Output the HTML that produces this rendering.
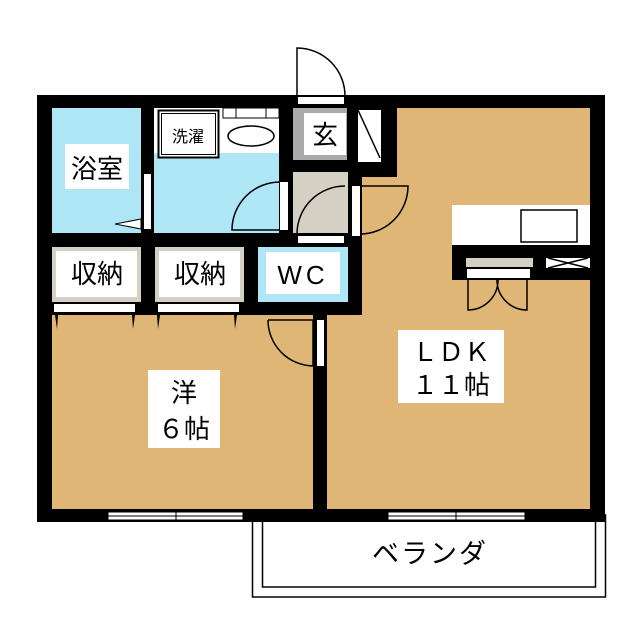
<!DOCTYPE html>
<html><head><meta charset="utf-8"><style>
html,body{margin:0;padding:0;background:#fff;}
svg{display:block;}
text{font-family:"Liberation Sans","Noto Sans CJK JP",sans-serif;fill:#000;}
</style></head><body>
<svg width="640" height="640" viewBox="0 0 640 640" xmlns="http://www.w3.org/2000/svg">
<rect x="252.5" y="515" width="353" height="82" fill="#fff" stroke="#000" stroke-width="1.5"/>
<rect x="262.5" y="515" width="333" height="72" fill="#fff" stroke="#000" stroke-width="1.5"/>
<text x="430" y="563" font-size="27" text-anchor="middle" letter-spacing="2">ベランダ</text>
<rect x="37" y="95" width="568" height="427" fill="#000"/>
<rect x="327" y="108" width="263" height="401" fill="#e0b677"/>
<rect x="362" y="177" width="40" height="70" fill="#e0b677"/>
<rect x="327" y="108" width="70" height="69" fill="#000"/>
<rect x="327" y="177" width="35" height="138" fill="#000"/>
<rect x="52" y="315" width="261" height="194" fill="#e0b677"/>
<rect x="52" y="108" width="89" height="125" fill="#aee6f6"/>
<rect x="65" y="144" width="64" height="45" fill="#fff"/>
<text x="97" y="178" font-size="26" text-anchor="middle">浴室</text>
<rect x="154" y="108" width="125" height="125" fill="#aee6f6"/>
<rect x="154" y="108" width="125" height="45" fill="#fff"/>
<rect x="158.5" y="110.5" width="60" height="47" fill="#fff" stroke="#000" stroke-width="2"/>
<rect x="161.5" y="113.5" width="54" height="41" fill="none" stroke="#000" stroke-width="1"/>
<text x="188" y="142" font-size="16" text-anchor="middle">洗濯</text>
<rect x="223" y="108" width="56" height="10" fill="#fff" stroke="#000" stroke-width="1"/>
<line x1="236" y1="108" x2="236" y2="118" stroke="#000"/><line x1="266" y1="108" x2="266" y2="118" stroke="#000"/>
<ellipse cx="251" cy="136" rx="23" ry="10" fill="#fff" stroke="#000" stroke-width="1.5"/>
<rect x="144" y="174" width="7" height="55" fill="#fff"/>
<polygon points="115,224 141,219 141,229" fill="#fff" stroke="#000" stroke-width="1"/>
<rect x="280" y="182" width="8" height="48" fill="#fff"/>
<path d="M280 182 A48 48 0 0 0 232 230 L280 230" fill="none" stroke="#000" stroke-width="1.5"/>
<rect x="293" y="108" width="54" height="52" fill="#aaa"/>
<rect x="304" y="113" width="42" height="42" fill="#fff"/>
<text x="325" y="144" font-size="26" text-anchor="middle">玄</text>
<rect x="357.5" y="109.5" width="24" height="53" fill="#fff" stroke="#000" stroke-width="1"/>
<line x1="358" y1="110" x2="380" y2="158" stroke="#000" stroke-width="1.5"/>
<rect x="293" y="172" width="55" height="61" fill="#d4d0c4"/>
<rect x="298" y="97" width="46" height="7" fill="#fff"/>
<path d="M297 97 L297 48 A48 48 0 0 1 345 97" fill="none" stroke="#000" stroke-width="1.5"/>
<path d="M345 186 A48 48 0 0 0 297 233" fill="none" stroke="#000" stroke-width="1.5"/>
<rect x="298" y="236" width="46" height="7" fill="#fff"/>
<rect x="352" y="186" width="8" height="50" fill="#fff"/>
<path d="M360 186 L408 186 A48 48 0 0 1 360 234" fill="none" stroke="#000" stroke-width="1.5"/>
<rect x="52" y="247" width="89" height="55" fill="#d4d0c4"/>
<rect x="56" y="251" width="81" height="46" fill="#fff"/>
<text x="97" y="283" font-size="26" text-anchor="middle">収納</text>
<rect x="155" y="247" width="89" height="55" fill="#d4d0c4"/>
<rect x="159" y="251" width="81" height="46" fill="#fff"/>
<text x="200" y="283" font-size="26" text-anchor="middle">収納</text>
<rect x="258" y="247" width="90" height="55" fill="#aee6f6"/>
<rect x="266" y="252" width="74" height="42" fill="#fff"/>
<text x="303" y="284" font-size="26" text-anchor="middle" letter-spacing="4">WC</text>
<rect x="54" y="304" width="81" height="8" fill="#fff"/>
<rect x="158" y="304" width="81" height="8" fill="#fff"/>
<g fill="#000">
<polygon points="55,315 58,315 57,329"/><polygon points="132,315 135,315 133,329"/>
<polygon points="157,315 160,315 158,329"/><polygon points="234,315 237,315 235,329"/>
</g>
<rect x="317" y="320" width="7" height="46" fill="#fff"/>
<path d="M268 320 L313 320 L313 366 A46 46 0 0 1 268 320" fill="none" stroke="#000" stroke-width="1.5"/>
<rect x="148" y="370" width="72" height="78" fill="#fff"/>
<text x="184" y="402" font-size="26" text-anchor="middle">洋</text>
<text x="184" y="438" font-size="26" text-anchor="middle">６帖</text>
<rect x="398" y="330" width="106" height="73" fill="#fff"/>
<text x="451" y="361" font-size="26" text-anchor="middle">ＬＤＫ</text>
<text x="451" y="394" font-size="26" text-anchor="middle">１１帖</text>
<rect x="452" y="205" width="138" height="40" fill="#fff"/>
<rect x="521" y="210" width="56" height="32" fill="#fff" stroke="#000" stroke-width="1.5"/>
<rect x="452" y="245" width="153" height="35" fill="#000"/>
<rect x="466" y="258" width="67" height="9" fill="#d4d0c4"/>
<rect x="467" y="269" width="63" height="9" fill="#fff"/>
<rect x="546" y="258" width="44" height="10" fill="#fff"/>
<path d="M548 258 L588 268 M548 268 L588 258" stroke="#000" stroke-width="1.5"/>
<path d="M468 280 L468 310 A30 30 0 0 0 498 280 M527 280 L527 310 A30 30 0 0 1 497 280" fill="none" stroke="#000" stroke-width="1.5"/>
<g fill="#fff" stroke="#000" stroke-width="1">
<rect x="108" y="512" width="135" height="4"/><rect x="108" y="516" width="135" height="4"/>
<rect x="388" y="512" width="137" height="4"/><rect x="388" y="516" width="137" height="4"/>
</g>
<line x1="176" y1="510" x2="176" y2="522" stroke="#000"/>
<line x1="456" y1="510" x2="456" y2="522" stroke="#000"/>
</svg>
</body></html>
